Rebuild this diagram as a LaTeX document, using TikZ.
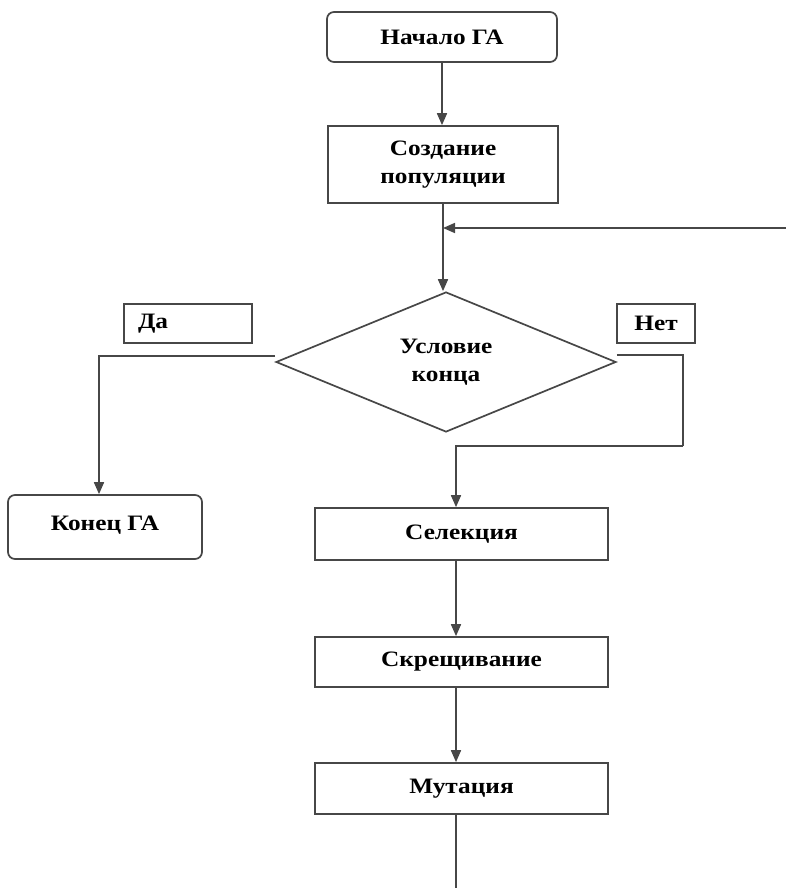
\documentclass[tikz,border=0pt]{standalone}
\usepackage{fontspec}
\setmainfont{Liberation Serif}[FakeStretch=1.15]
\usetikzlibrary{arrows.meta,shapes.geometric}
\begin{document}
\begin{tikzpicture}[x=1pt,y=-1pt,
  line width=1.7pt,
  lc/.style={draw=black!72},
  box/.style={lc,rectangle,inner sep=0pt,font=\fontsize{22}{28}\selectfont\bfseries,align=center,fill=white},
  rbox/.style={box,rounded corners=7pt},
  lbl/.style={box,line width=1.5pt},
  arr/.style={lc,-{Triangle[width=10pt,length=12pt]}},
  ln/.style={lc}
]
\useasboundingbox (0,0) rectangle (786,888);
\node[rbox,minimum width=230pt,minimum height=50pt] (start) at (442,37) {Начало ГА};
\node[box,minimum width=230pt,minimum height=77pt] (create) at (443,164.5) {Создание\\популяции};
\node[box,diamond,minimum width=340pt,minimum height=140pt,aspect=2.4] (cond) at (446,362) {Условие\\конца};
\node[lbl,minimum width=128pt,minimum height=39pt,text width=100pt,align=left] (yes) at (188,323.5) {Да};
\node[lbl,minimum width=78pt,minimum height=39pt] (no) at (656,323.5) {Нет};
\node[rbox,minimum width=194pt,minimum height=64pt] (endn) at (105,527) {\raisebox{8pt}{Конец ГА}};
\node[box,minimum width=293pt,minimum height=52pt] (sel) at (461.5,534) {Селекция};
\node[box,minimum width=293pt,minimum height=50pt] (cross) at (461.5,662) {Скрещивание};
\node[box,minimum width=293pt,minimum height=51pt] (mut) at (461.5,788.5) {Мутация};
\coordinate (loopin) at (786,228);
\coordinate (r1) at (683,355);
\coordinate (r2) at (683,446);
\coordinate (bottom) at (456,888);
\draw[arr] (start.south) -- (start.south |- create.north);
\draw[arr] (create.south) -- (create.south |- cond.north);
\draw[arr] (loopin) -- (loopin -| create.south);
\draw[arr] ([yshift=6pt]cond.west) -| ([xshift=-6pt]endn.north);
\draw[ln] ([yshift=7pt]cond.east) -- (r1) -- (r2);
\draw[arr] (r2) -| ([xshift=-5.5pt]sel.north);
\draw[arr] ([xshift=-5.5pt]sel.south) -- ([xshift=-5.5pt]cross.north);
\draw[arr] ([xshift=-5.5pt]cross.south) -- ([xshift=-5.5pt]mut.north);
\draw[ln] ([xshift=-5.5pt]mut.south) -- (bottom);
\end{tikzpicture}
\end{document}
